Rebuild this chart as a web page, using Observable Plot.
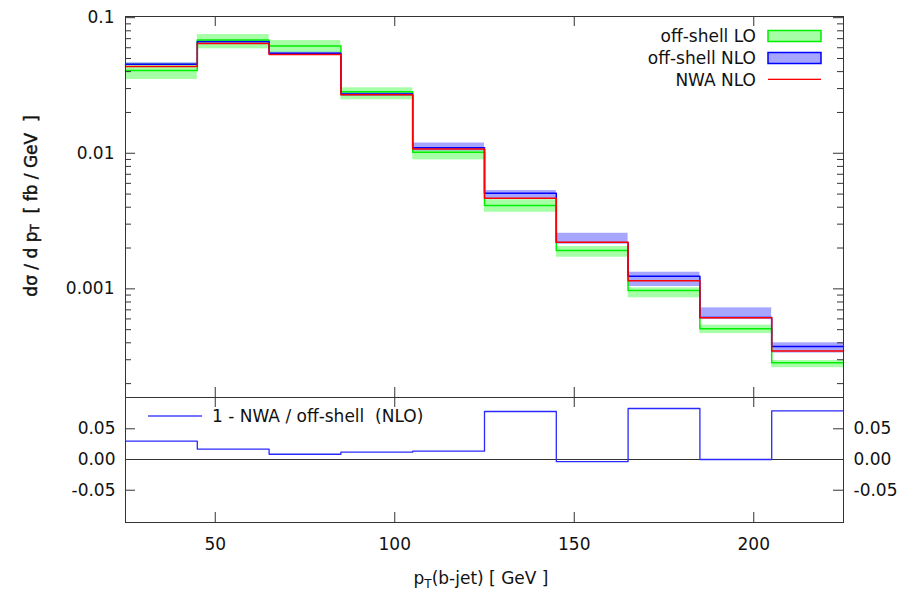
<!DOCTYPE html>
<html><head><meta charset="utf-8">
<script src="https://cdn.jsdelivr.net/npm/d3@7"></script>
<script src="https://cdn.jsdelivr.net/npm/@observablehq/plot@0.6"></script>
<style>
body{margin:0;background:#fff;}
#chart{position:relative;width:909px;height:592px;background:#fff;}
#chart svg{position:absolute;left:0;}
</style></head><body><div id="chart"></div>
<script>
// ---- data ----
const binEdges   = [25, 45, 65, 85, 105, 125, 145, 165, 185, 205, 225];
const loCentral  = [0.0407, 0.0683, 0.0619, 0.0284, 0.01017, 0.00411, 0.00192, 0.000972, 0.000507, 0.000285];
const loLow      = [0.0350, 0.0589, 0.0550, 0.0248, 0.00894, 0.00367, 0.00171, 0.000859, 0.000468, 0.000262];
const loHigh     = [0.0461, 0.0751, 0.0678, 0.0304, 0.0106, 0.00454, 0.00205, 0.001017, 0.000540, 0.000296];
const nloCentral = [0.0453, 0.0665, 0.0546, 0.0274, 0.01096, 0.00507, 0.00220, 0.001240, 0.000614, 0.000376];
const nloLow     = [0.0449, 0.0655, 0.0541, 0.0263, 0.0104, 0.00461, 0.00221, 0.00104, 0.000600, 0.000336];
const nloHigh    = [0.0464, 0.0678, 0.0556, 0.0279, 0.0119, 0.00531, 0.00257, 0.001326, 0.000724, 0.000400];
const nwaNlo     = [0.0436, 0.0645, 0.0534, 0.0270, 0.01077, 0.00466, 0.00221, 0.001147, 0.000613, 0.000348];
const ratioNlo   = [0.0298, 0.0168, 0.0086, 0.0119, 0.0135, 0.0782, -0.0033, 0.0831, 0.0, 0.0793];

const xTickValues = [50, 100, 150, 200];
const yTopTicks = [0.1, 0.01, 0.001];
const yBottomTicks = [0.05, 0, -0.05];
const legendLabels = ["off-shell LO", "off-shell NLO", "NWA NLO"];
const ratioLegend = "1 - NWA / off-shell  (NLO)";

// ---- tables ----
const bins = binEdges.slice(0, -1).map((x1, i) => ({
  x1, x2: binEdges[i + 1],
  loLow: loLow[i], loHigh: loHigh[i], nloLow: nloLow[i], nloHigh: nloHigh[i]
}));
const steps = vals => [...bins.map((b, i) => ({x: b.x1, y: vals[i]})),
                       {x: binEdges[binEdges.length - 1], y: vals[vals.length - 1]}];
const yMinorTicks = [];
for (const dec of [1e-4, 1e-3, 1e-2]) for (let k = 2; k <= 9; k++) {
  const v = +(k * dec).toPrecision(3);
  if (v >= 1.58e-4 && v <= 0.102) yMinorTicks.push(v);
}

const FONT = "'DejaVu Sans', sans-serif";
const frameColor = "#333";
const W = 909, ML = 125, MR = 66;
const innerW = W - ML - MR;

// ---- top panel ----
const topH = 398, topMT = 16, topMB = 1;
const topInner = topH - topMT - topMB;
const topPlot = Plot.plot({
  width: W, height: topH, marginLeft: ML, marginRight: MR, marginTop: topMT, marginBottom: topMB,
  x: {domain: [25, 225], axis: null},
  y: {type: "log", domain: [1.58e-4, 0.102]},
  style: {fontFamily: FONT, fontSize: "17px", color: "#111", background: "transparent", overflow: "visible"},
  marks: [
    Plot.rect(bins, {x1: "x1", x2: "x2", y1: "loLow", y2: "loHigh", fill: "#00ff00", fillOpacity: 0.35}),
    Plot.rect(bins, {x1: "x1", x2: "x2", y1: "nloLow", y2: "nloHigh", fill: "#0000ff", fillOpacity: 0.35}),
    Plot.line(steps(loCentral), {x: "x", y: "y", curve: "step-after", stroke: "#00ee00", strokeWidth: 1.5}),
    Plot.line(steps(nloCentral), {x: "x", y: "y", curve: "step-after", stroke: "#0000ff", strokeWidth: 1.5}),
    Plot.line(steps(nwaNlo), {x: "x", y: "y", curve: "step-after", stroke: "#ff0000", strokeWidth: 1.5}),
    Plot.tickX(xTickValues, {x: d => d, insetBottom: topInner - 10, stroke: frameColor}),
    Plot.tickX(xTickValues, {x: d => d, insetTop: topInner - 10, stroke: frameColor}),
    Plot.tickY(yTopTicks, {y: d => d, insetRight: innerW - 10, stroke: frameColor}),
    Plot.tickY(yTopTicks, {y: d => d, insetLeft: innerW - 10, stroke: frameColor}),
    Plot.tickY(yMinorTicks, {y: d => d, insetRight: innerW - 6, stroke: frameColor}),
    Plot.tickY(yMinorTicks, {y: d => d, insetLeft: innerW - 6, stroke: frameColor}),
    Plot.axisY({ticks: yTopTicks, anchor: "left", tickSize: 0, tickPadding: 11, tickFormat: d => String(d), label: null, fontSize: 17}),
    Plot.frame({stroke: frameColor})
  ]
});
topPlot.style.top = "0px";

// ---- bottom panel ----
const botTop = 396, botH = 592 - botTop, botMT = 1, botMB = botH - (522 - botTop);
const botInner = botH - botMT - botMB;
const bottomPlot = Plot.plot({
  width: W, height: botH, marginLeft: ML, marginRight: MR, marginTop: botMT, marginBottom: botMB,
  x: {domain: [25, 225]},
  y: {domain: [-0.1026, 0.101]},
  style: {fontFamily: FONT, fontSize: "17px", color: "#111", background: "transparent", overflow: "visible"},
  marks: [
    Plot.ruleY([0], {stroke: frameColor}),
    Plot.line(steps(ratioNlo), {x: "x", y: "y", curve: "step-after", stroke: "#2a2aff", strokeWidth: 1.3}),
    Plot.tickX(xTickValues, {x: d => d, insetBottom: botInner - 10, stroke: frameColor}),
    Plot.tickX(xTickValues, {x: d => d, insetTop: botInner - 10, stroke: frameColor}),
    Plot.tickY(yBottomTicks, {y: d => d, insetRight: innerW - 10, stroke: frameColor}),
    Plot.tickY(yBottomTicks, {y: d => d, insetLeft: innerW - 10, stroke: frameColor}),
    Plot.axisY({ticks: yBottomTicks, anchor: "left", tickSize: 0, tickPadding: 10, tickFormat: d => d.toFixed(2), label: null, fontSize: 17}),
    Plot.axisY({ticks: yBottomTicks, anchor: "right", tickSize: 0, tickPadding: 10, tickFormat: d => d.toFixed(2), label: null, fontSize: 17}),
    Plot.axisX({ticks: xTickValues, anchor: "bottom", tickSize: 0, tickPadding: 15, label: null, fontSize: 17}),
    Plot.frame({stroke: frameColor})
  ]
});
bottomPlot.style.top = botTop + "px";

const chart = document.getElementById("chart");
chart.appendChild(topPlot);
chart.appendChild(bottomPlot);

// ---- legend (top) ----
const ts = d3.select(topPlot);
const lg = ts.append("g").attr("font-family", FONT).attr("font-size", 17).attr("fill", "#111");
const rowY = [36, 58, 80];
legendLabels.forEach((t, i) => {
  lg.append("text").attr("x", 756).attr("y", rowY[i]).attr("text-anchor", "end")
    .attr("dy", "0.35em").text(t);
});
lg.append("rect").attr("x", 768).attr("y", rowY[0] - 5.5).attr("width", 53).attr("height", 11)
  .attr("fill", "#a6ffa6").attr("stroke", "#00ee00").attr("stroke-width", 1.5);
lg.append("rect").attr("x", 768).attr("y", rowY[1] - 5.5).attr("width", 53).attr("height", 11)
  .attr("fill", "#a6a6ff").attr("stroke", "#0000ff").attr("stroke-width", 1.5);
lg.append("rect").attr("x", 768).attr("y", rowY[2] - 1.3).attr("width", 53).attr("height", 1.3)
  .attr("fill", "#ff0000").attr("stroke", "none");

// y label
const yl = ts.append("text").attr("font-family", FONT).attr("font-size", 17)
  .attr("fill", "#111").attr("stroke", "#111").attr("stroke-width", 0.45)
  .attr("text-anchor", "middle").attr("dominant-baseline", "central")
  .attr("transform", "translate(31,206) rotate(-90)").style("white-space", "pre");
yl.append("tspan").text("dσ / d p");
yl.append("tspan").attr("font-size", 12).attr("dy", 4).text("T");
yl.append("tspan").attr("dy", -4).text("  [ fb / GeV  ]");

// ---- legend (bottom) + x label ----
const bs = d3.select(bottomPlot);
bs.append("rect").attr("x", 148).attr("y", 416 - botTop - 0.65).attr("width", 54).attr("height", 1.3)
  .attr("fill", "#2a2aff").attr("stroke", "none");
bs.append("text").attr("x", 212).attr("y", 416 - botTop).attr("dy", "0.35em").attr("text-anchor", "start")
  .attr("font-family", FONT).attr("font-size", 17).attr("fill", "#111").style("white-space", "pre")
  .text(ratioLegend);
const xl = bs.append("text").attr("x", 481).attr("y", 584 - botTop).attr("text-anchor", "middle")
  .attr("font-family", FONT).attr("font-size", 17).attr("fill", "#111").style("white-space", "pre");
xl.append("tspan").text("p");
xl.append("tspan").attr("font-size", 12).attr("dy", 4).text("T");
xl.append("tspan").attr("dy", -4).text("(b-jet) [ GeV ]");
</script></body></html>
